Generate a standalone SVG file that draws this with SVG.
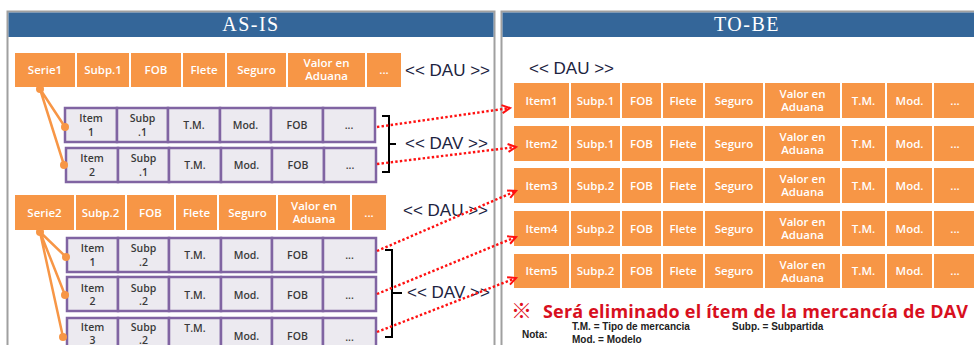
<svg xmlns="http://www.w3.org/2000/svg" width="974" height="345" viewBox="0 0 974 345">
<style>
.panel{fill:#fff;stroke:#a0a0a0;stroke-width:2}
.hdr{fill:#346699}
.ht{font-family:"Liberation Serif",serif;font-size:20px;letter-spacing:1.5px;fill:#fff;text-anchor:middle}
.oc{fill:#F79646}
.ot{font-family:"Open Sans","DejaVu Sans",sans-serif;font-weight:600;font-size:11.5px;fill:#fff;text-anchor:middle}
.pc{fill:#ECEAF0;stroke:#8064A2;stroke-width:2.5}
.pt{font-family:"Open Sans","DejaVu Sans",sans-serif;font-weight:600;font-size:10.5px;fill:#3a3a3a;text-anchor:middle}
.lbl{font-family:"Liberation Sans",sans-serif;font-size:17px;fill:#1c2340}
.oline{stroke:#F79646;stroke-width:2.5;fill:none}
.odot{fill:#F79646}
.red{stroke:#FF1010;stroke-width:2.4;stroke-dasharray:2.4 2.2;fill:none;marker-end:url(#ah)}
.brace{stroke:#000;stroke-width:2;fill:none}
.note{font-family:"Liberation Sans",sans-serif;font-weight:bold;font-size:10px;fill:#222}
</style>
<defs>
<marker id="ah" markerWidth="12" markerHeight="12" refX="9" refY="5" orient="auto" markerUnits="userSpaceOnUse">
<path d="M1,1 L9,5 L1,9" stroke="#FF1010" stroke-width="2" fill="none"/>
</marker>
</defs>
<rect width="974" height="345" fill="#fff"/>

<g id="panel-asis">
<rect class="panel" x="7.5" y="11.5" width="487" height="345"/>
<rect class="hdr" x="8.5" y="12.5" width="485" height="24.5"/>
<text class="ht" x="251" y="31">AS-IS</text>
</g>
<g id="panel-tobe">
<rect class="panel" x="501.5" y="11.5" width="490" height="345"/>
<rect class="hdr" x="502.5" y="12.5" width="488" height="24.5"/>
<text class="ht" x="747" y="31">TO-BE</text>
</g>

<g id="dau-serie1">
<rect class="oc" x="15" y="53" width="60" height="34"/><text class="ot" x="45" y="74">Serie1</text>
<rect class="oc" x="77" y="53" width="52" height="34"/><text class="ot" x="103" y="74">Subp.1</text>
<rect class="oc" x="131" y="53" width="50" height="34"/><text class="ot" x="156" y="74">FOB</text>
<rect class="oc" x="183" y="53" width="42" height="34"/><text class="ot" x="204" y="74">Flete</text>
<rect class="oc" x="227" y="53" width="59" height="34"/><text class="ot" x="256.5" y="74">Seguro</text>
<rect class="oc" x="288" y="53" width="77" height="34"/><text class="ot" x="326.5" y="67">Valor en</text><text class="ot" x="326.5" y="80">Aduana</text>
<rect class="oc" x="367" y="53" width="34" height="34"/><text class="ot" x="384" y="74">...</text>
</g>

<g id="dav-s1-item1">
<rect class="pc" x="65" y="108" width="52" height="34"/><text class="pt" x="91" y="122">Item</text><text class="pt" x="91" y="136">1</text>
<rect class="pc" x="117" y="108" width="51" height="34"/><text class="pt" x="142.5" y="122">Subp</text><text class="pt" x="142.5" y="136">.1</text>
<rect class="pc" x="168" y="108" width="52" height="34"/><text class="pt" x="194" y="129">T.M.</text>
<rect class="pc" x="220" y="108" width="51" height="34"/><text class="pt" x="245.5" y="129">Mod.</text>
<rect class="pc" x="271" y="108" width="52" height="34"/><text class="pt" x="297" y="129">FOB</text>
<rect class="pc" x="323" y="108" width="52" height="34"/><text class="pt" x="349" y="129">...</text>
</g>
<g id="dav-s1-item2">
<rect class="pc" x="66" y="148" width="52" height="34"/><text class="pt" x="92" y="162">Item</text><text class="pt" x="92" y="176">2</text>
<rect class="pc" x="118" y="148" width="51" height="34"/><text class="pt" x="143.5" y="162">Subp</text><text class="pt" x="143.5" y="176">.1</text>
<rect class="pc" x="169" y="148" width="52" height="34"/><text class="pt" x="195" y="169">T.M.</text>
<rect class="pc" x="221" y="148" width="51" height="34"/><text class="pt" x="246.5" y="169">Mod.</text>
<rect class="pc" x="272" y="148" width="52" height="34"/><text class="pt" x="298" y="169">FOB</text>
<rect class="pc" x="324" y="148" width="52" height="34"/><text class="pt" x="350" y="169">...</text>
</g>

<g id="dau-serie2">
<rect class="oc" x="15" y="195" width="59" height="35"/><text class="ot" x="44.5" y="216.5">Serie2</text>
<rect class="oc" x="76" y="195" width="49" height="35"/><text class="ot" x="100.5" y="216.5">Subp.2</text>
<rect class="oc" x="127" y="195" width="47" height="35"/><text class="ot" x="150.5" y="216.5">FOB</text>
<rect class="oc" x="176" y="195" width="41" height="35"/><text class="ot" x="196.5" y="216.5">Flete</text>
<rect class="oc" x="219" y="195" width="57" height="35"/><text class="ot" x="247.5" y="216.5">Seguro</text>
<rect class="oc" x="278" y="195" width="72" height="35"/><text class="ot" x="314" y="210">Valor en</text><text class="ot" x="314" y="223">Aduana</text>
<rect class="oc" x="352" y="195" width="34" height="35"/><text class="ot" x="369" y="216.5">...</text>
</g>

<g id="dav-s2-item1">
<rect class="pc" x="67" y="238" width="51" height="34"/><text class="pt" x="92.5" y="252">Item</text><text class="pt" x="92.5" y="265.5">1</text>
<rect class="pc" x="118" y="238" width="51" height="34"/><text class="pt" x="143.5" y="252">Subp</text><text class="pt" x="143.5" y="265.5">.2</text>
<rect class="pc" x="169" y="238" width="52" height="34"/><text class="pt" x="195" y="259">T.M.</text>
<rect class="pc" x="221" y="238" width="51" height="34"/><text class="pt" x="246.5" y="259">Mod.</text>
<rect class="pc" x="272" y="238" width="51" height="34"/><text class="pt" x="297.5" y="259">FOB</text>
<rect class="pc" x="323" y="238" width="53" height="34"/><text class="pt" x="349.5" y="259">...</text>
</g>
<g id="dav-s2-item2">
<rect class="pc" x="67" y="277" width="51" height="34"/><text class="pt" x="92.5" y="291.5">Item</text><text class="pt" x="92.5" y="305">2</text>
<rect class="pc" x="118" y="277" width="51" height="34"/><text class="pt" x="143.5" y="291.5">Subp</text><text class="pt" x="143.5" y="305">.2</text>
<rect class="pc" x="169" y="277" width="52" height="34"/><text class="pt" x="195" y="298.5">T.M.</text>
<rect class="pc" x="221" y="277" width="51" height="34"/><text class="pt" x="246.5" y="298.5">Mod.</text>
<rect class="pc" x="272" y="277" width="51" height="34"/><text class="pt" x="297.5" y="298.5">FOB</text>
<rect class="pc" x="323" y="277" width="53" height="34"/><text class="pt" x="349.5" y="298.5">...</text>
</g>
<g id="dav-s2-item3">
<rect class="pc" x="67" y="318" width="51" height="36"/><text class="pt" x="92.5" y="331">Item</text><text class="pt" x="92.5" y="344">3</text>
<rect class="pc" x="118" y="318" width="51" height="36"/><text class="pt" x="143.5" y="331">Subp</text><text class="pt" x="143.5" y="344">.2</text>
<rect class="pc" x="169" y="318" width="52" height="36"/><text class="pt" x="195" y="332">T.M.</text>
<rect class="pc" x="221" y="318" width="51" height="36"/><text class="pt" x="246.5" y="339.5">Mod.</text>
<rect class="pc" x="272" y="318" width="51" height="36"/><text class="pt" x="297.5" y="339.5">FOB</text>
<rect class="pc" x="323" y="318" width="53" height="36"/><text class="pt" x="349.5" y="341">...</text>
</g>

<g id="labels-asis">
<text class="lbl" x="405" y="76">&lt;&lt; DAU &gt;&gt;</text>
<text class="lbl" x="405" y="148.5">&lt;&lt; DAV &gt;&gt;</text>
<text class="lbl" x="403" y="215.5">&lt;&lt; DAU &gt;&gt;</text>
<text class="lbl" x="407" y="297.5">&lt;&lt; DAV &gt;&gt;</text>
</g>

<g id="tobe-dau-label">
<text class="lbl" x="529" y="73.5">&lt;&lt; DAU &gt;&gt;</text>
</g>

<g id="tobe-item1">
<rect class="oc" x="514" y="83" width="55" height="35"/><text class="ot" x="541.5" y="104.5">Item1</text>
<rect class="oc" x="571" y="83" width="49" height="35"/><text class="ot" x="595.5" y="104.5">Subp.1</text>
<rect class="oc" x="622" y="83" width="39" height="35"/><text class="ot" x="641.5" y="104.5">FOB</text>
<rect class="oc" x="663" y="83" width="40" height="35"/><text class="ot" x="683" y="104.5">Flete</text>
<rect class="oc" x="705" y="83" width="58" height="35"/><text class="ot" x="734" y="104.5">Seguro</text>
<rect class="oc" x="765" y="83" width="75" height="35"/><text class="ot" x="802.5" y="98">Valor en</text><text class="ot" x="802.5" y="111">Aduana</text>
<rect class="oc" x="842" y="83" width="43" height="35"/><text class="ot" x="863.5" y="104.5">T.M.</text>
<rect class="oc" x="887" y="83" width="45" height="35"/><text class="ot" x="909.5" y="104.5">Mod.</text>
<rect class="oc" x="934" y="83" width="44" height="35"/><text class="ot" x="955" y="104.5">...</text>
</g>
<g id="tobe-item2">
<rect class="oc" x="514" y="126" width="55" height="35"/><text class="ot" x="541.5" y="147.5">Item2</text>
<rect class="oc" x="571" y="126" width="49" height="35"/><text class="ot" x="595.5" y="147.5">Subp.1</text>
<rect class="oc" x="622" y="126" width="39" height="35"/><text class="ot" x="641.5" y="147.5">FOB</text>
<rect class="oc" x="663" y="126" width="40" height="35"/><text class="ot" x="683" y="147.5">Flete</text>
<rect class="oc" x="705" y="126" width="58" height="35"/><text class="ot" x="734" y="147.5">Seguro</text>
<rect class="oc" x="765" y="126" width="75" height="35"/><text class="ot" x="802.5" y="141">Valor en</text><text class="ot" x="802.5" y="154">Aduana</text>
<rect class="oc" x="842" y="126" width="43" height="35"/><text class="ot" x="863.5" y="147.5">T.M.</text>
<rect class="oc" x="887" y="126" width="45" height="35"/><text class="ot" x="909.5" y="147.5">Mod.</text>
<rect class="oc" x="934" y="126" width="44" height="35"/><text class="ot" x="955" y="147.5">...</text>
</g>
<g id="tobe-item3">
<rect class="oc" x="514" y="168" width="55" height="35"/><text class="ot" x="541.5" y="189.5">Item3</text>
<rect class="oc" x="571" y="168" width="49" height="35"/><text class="ot" x="595.5" y="189.5">Subp.2</text>
<rect class="oc" x="622" y="168" width="39" height="35"/><text class="ot" x="641.5" y="189.5">FOB</text>
<rect class="oc" x="663" y="168" width="40" height="35"/><text class="ot" x="683" y="189.5">Flete</text>
<rect class="oc" x="705" y="168" width="58" height="35"/><text class="ot" x="734" y="189.5">Seguro</text>
<rect class="oc" x="765" y="168" width="75" height="35"/><text class="ot" x="802.5" y="183">Valor en</text><text class="ot" x="802.5" y="196">Aduana</text>
<rect class="oc" x="842" y="168" width="43" height="35"/><text class="ot" x="863.5" y="189.5">T.M.</text>
<rect class="oc" x="887" y="168" width="45" height="35"/><text class="ot" x="909.5" y="189.5">Mod.</text>
<rect class="oc" x="934" y="168" width="44" height="35"/><text class="ot" x="955" y="189.5">...</text>
</g>
<g id="tobe-item4">
<rect class="oc" x="514" y="211" width="55" height="35"/><text class="ot" x="541.5" y="232.5">Item4</text>
<rect class="oc" x="571" y="211" width="49" height="35"/><text class="ot" x="595.5" y="232.5">Subp.2</text>
<rect class="oc" x="622" y="211" width="39" height="35"/><text class="ot" x="641.5" y="232.5">FOB</text>
<rect class="oc" x="663" y="211" width="40" height="35"/><text class="ot" x="683" y="232.5">Flete</text>
<rect class="oc" x="705" y="211" width="58" height="35"/><text class="ot" x="734" y="232.5">Seguro</text>
<rect class="oc" x="765" y="211" width="75" height="35"/><text class="ot" x="802.5" y="226">Valor en</text><text class="ot" x="802.5" y="239">Aduana</text>
<rect class="oc" x="842" y="211" width="43" height="35"/><text class="ot" x="863.5" y="232.5">T.M.</text>
<rect class="oc" x="887" y="211" width="45" height="35"/><text class="ot" x="909.5" y="232.5">Mod.</text>
<rect class="oc" x="934" y="211" width="44" height="35"/><text class="ot" x="955" y="232.5">...</text>
</g>
<g id="tobe-item5">
<rect class="oc" x="514" y="254" width="55" height="34"/><text class="ot" x="541.5" y="275">Item5</text>
<rect class="oc" x="571" y="254" width="49" height="34"/><text class="ot" x="595.5" y="275">Subp.2</text>
<rect class="oc" x="622" y="254" width="39" height="34"/><text class="ot" x="641.5" y="275">FOB</text>
<rect class="oc" x="663" y="254" width="40" height="34"/><text class="ot" x="683" y="275">Flete</text>
<rect class="oc" x="705" y="254" width="58" height="34"/><text class="ot" x="734" y="275">Seguro</text>
<rect class="oc" x="765" y="254" width="75" height="34"/><text class="ot" x="802.5" y="268.5">Valor en</text><text class="ot" x="802.5" y="281.5">Aduana</text>
<rect class="oc" x="842" y="254" width="43" height="34"/><text class="ot" x="863.5" y="275">T.M.</text>
<rect class="oc" x="887" y="254" width="45" height="34"/><text class="ot" x="909.5" y="275">Mod.</text>
<rect class="oc" x="934" y="254" width="44" height="34"/><text class="ot" x="955" y="275">...</text>
</g>

<g id="note">
<text x="511" y="318" font-family="'Noto Sans CJK JP','DejaVu Sans',sans-serif" font-weight="bold" font-size="21" fill="#E0101E">※</text>
<text x="543" y="318" font-family="'Open Sans','DejaVu Sans',sans-serif" font-weight="bold" font-size="18" fill="#D8101E" textLength="425">Será eliminado el ítem de la mercancía de DAV</text>
<text class="note" x="522" y="338">Nota:</text>
<text class="note" x="572" y="330">T.M. = Tipo de mercancia</text>
<text class="note" x="732" y="330">Subp. = Subpartida</text>
<text class="note" x="572" y="343">Mod. = Modelo</text>
</g>

<g id="connectors">
<path class="oline" d="M40,89 L65,127 M40,89 L64,165"/>
<circle class="odot" cx="40" cy="89" r="4"/>
<circle class="odot" cx="65" cy="127" r="4"/>
<circle class="odot" cx="64" cy="165" r="4"/>
<path class="oline" d="M40,232 L66,257 M40,232 L65,295 M40,232 L63,337"/>
<circle class="odot" cx="40" cy="232" r="4"/>
<circle class="odot" cx="66" cy="257" r="4"/>
<circle class="odot" cx="65" cy="295" r="4"/>
<circle class="odot" cx="63" cy="337" r="4"/>
<path class="brace" d="M382,116 H389 V172 H382 M389,144 H396"/>
<path class="brace" d="M385,250 H392 V337 H385 M392,293 H402"/>
<path class="red" d="M377,127 L510,108"/>
<path class="red" d="M377,164 L516,147"/>
<path class="red" d="M377,251 L516,191"/>
<path class="red" d="M377,294 L516,237"/>
<path class="red" d="M377,332 L516,278"/>
</g>
</svg>
